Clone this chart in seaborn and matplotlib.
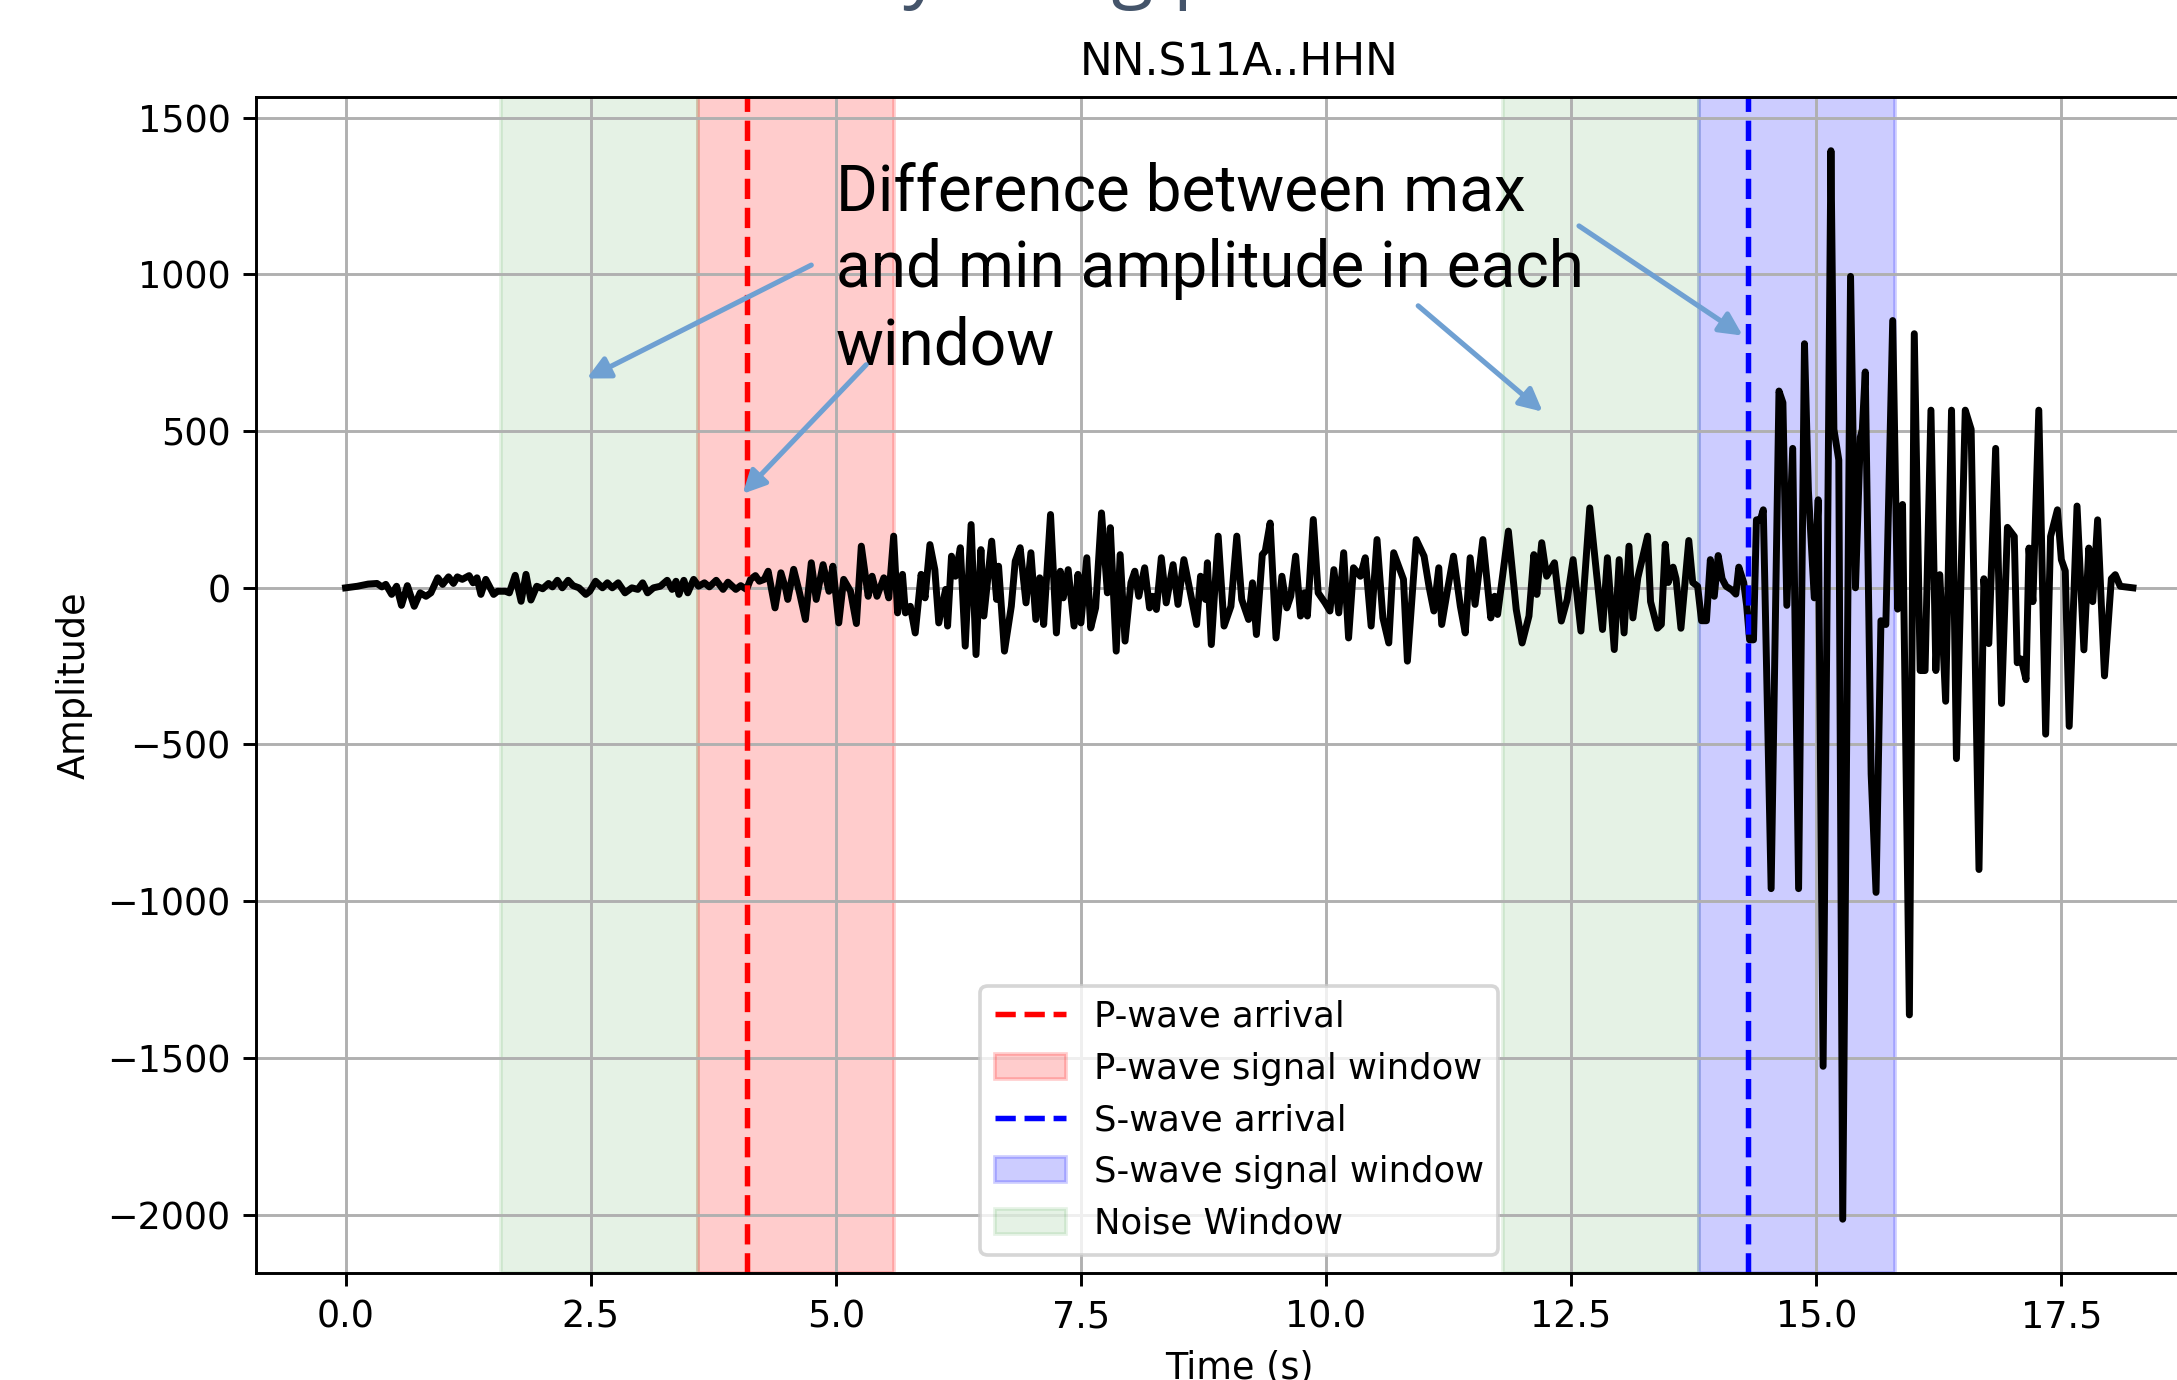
import seaborn as sns
import matplotlib.pyplot as plt

# waveform vertices (seconds, counts)
time_s = [
    0.00, 0.12, 0.23, 0.32, 0.37, 0.41, 0.47, 0.52, 0.57, 0.63, 0.70, 0.76, 0.82, 0.87, 0.94, 0.99, 1.05, 1.10, 1.14, 1.19,
    1.26, 1.30, 1.34, 1.38, 1.43, 1.51, 1.55, 1.63, 1.67, 1.73, 1.79, 1.84, 1.89, 1.95, 2.01, 2.07, 2.11, 2.16, 2.21, 2.27,
    2.32, 2.38, 2.45, 2.49, 2.55, 2.62, 2.67, 2.72, 2.78, 2.85, 2.92, 2.98, 3.03, 3.08, 3.14, 3.21, 3.28, 3.33, 3.37, 3.40,
    3.45, 3.49, 3.55, 3.60, 3.66, 3.71, 3.78, 3.85, 3.90, 3.98, 4.03, 4.09, 4.13, 4.18, 4.22, 4.27, 4.31, 4.38, 4.44, 4.49,
    4.51, 4.57, 4.63, 4.69, 4.75, 4.80, 4.87, 4.93, 4.97, 5.03, 5.08, 5.15, 5.21, 5.26, 5.33, 5.37, 5.42, 5.49, 5.54, 5.59,
    5.63, 5.68, 5.71, 5.76, 5.81, 5.87, 5.91, 5.96, 6.01, 6.05, 6.12, 6.14, 6.18, 6.22, 6.27, 6.32, 6.38, 6.43, 6.48, 6.51,
    6.59, 6.64, 6.66, 6.72, 6.79, 6.83, 6.88, 6.94, 6.99, 7.04, 7.08, 7.12, 7.19, 7.25, 7.29, 7.32, 7.37, 7.43, 7.47, 7.50,
    7.56, 7.60, 7.65, 7.71, 7.77, 7.80, 7.86, 7.90, 7.95, 8.01, 8.05, 8.09, 8.15, 8.20, 8.23, 8.27, 8.32, 8.37, 8.44, 8.49,
    8.55, 8.61, 8.68, 8.72, 8.77, 8.79, 8.83, 8.90, 8.96, 9.03, 9.09, 9.14, 9.21, 9.25, 9.29, 9.35, 9.38, 9.43, 9.49, 9.55,
    9.60, 9.64, 9.69, 9.74, 9.78, 9.81, 9.87, 9.92, 9.99, 10.04, 10.08, 10.13, 10.18, 10.23, 10.28, 10.35, 10.40, 10.46, 10.52, 10.58,
    10.64, 10.69, 10.79, 10.83, 10.92, 11.00, 11.05, 11.10, 11.15, 11.18, 11.24, 11.30, 11.37, 11.42, 11.47, 11.52, 11.60, 11.68, 11.72, 11.75,
    11.86, 11.94, 12.00, 12.07, 12.12, 12.15, 12.20, 12.25, 12.33, 12.40, 12.46, 12.52, 12.60, 12.69, 12.76, 12.82, 12.87, 12.94, 12.99, 13.04,
    13.09, 13.13, 13.18, 13.28, 13.31, 13.38, 13.42, 13.46, 13.49, 13.54, 13.57, 13.62, 13.70, 13.74, 13.79, 13.83, 13.88, 13.92, 13.96, 14.00,
    14.04, 14.08, 14.14, 14.18, 14.21, 14.26, 14.29, 14.32, 14.36, 14.39, 14.43, 14.46, 14.54, 14.62, 14.66, 14.70, 14.76, 14.82, 14.88, 14.92,
    14.98, 15.02, 15.07, 15.15, 15.18, 15.23, 15.27, 15.35, 15.40, 15.45, 15.47, 15.50, 15.56, 15.61, 15.66, 15.71, 15.78, 15.83, 15.88, 15.95,
    16.00, 16.06, 16.11, 16.17, 16.22, 16.26, 16.32, 16.38, 16.43, 16.52, 16.58, 16.66, 16.71, 16.76, 16.83, 16.89, 16.95, 17.02, 17.05, 17.09,
    17.14, 17.17, 17.21, 17.27, 17.34, 17.39, 17.46, 17.50, 17.54, 17.58, 17.66, 17.73, 17.78, 17.82, 17.87, 17.94, 18.01, 18.05, 18.10, 18.23,
]
amplitude = [
    0, 5, 12, 14, 3, 11, -21, 5, -56, 7, -59, -16, -27, -16, 32, 11, 35, 14, 35, 27,
    39, 16, 32, -21, 27, -21, -11, -11, -16, 40, -43, 43, -39, 5, -3, 14, 3, 24, 0, 24,
    7, 0, -21, -11, 21, 0, 16, 0, 16, -16, 0, -5, 16, -16, 0, 5, 24, -5, 21, -21,
    24, -16, 27, 5, 16, 3, 24, -5, 18, -5, 7, -5, 27, 39, 21, 27, 53, -64, 48, -5,
    -37, 59, -16, -101, 80, -37, 74, -11, 69, -112, 27, -11, -114, 133, -27, 37, -27, 32, -32, 165,
    -80, 43, -80, -59, -144, 43, -32, 138, 58, -112, -5, -122, 101, 37, 128, -186, 202, -213, 122, -90,
    149, -37, 69, -202, -59, 85, 128, -48, 112, -101, 32, -117, 234, -144, 53, -32, 58, -122, 43, -112,
    96, -128, -64, 239, -16, 192, -202, 106, -170, 16, 53, -27, 64, -64, -27, -69, 96, -48, 74, -53,
    90, -5, -117, 37, -37, 80, -181, 165, -122, -59, 165, -37, -101, 16, -149, 106, 117, 207, -160, 37,
    -64, -27, 101, -90, -16, -90, 218, -16, -48, -74, 58, -80, 112, -160, 64, 37, 96, -122, 154, -96,
    -176, 112, 27, -234, 154, 101, 5, -74, 64, -117, -5, 101, -59, -144, 96, -53, 154, -96, -27, -85,
    181, -69, -176, -90, 106, -21, 144, 37, 80, -106, -37, 90, -138, 255, 43, -133, 96, -197, 90, -144,
    133, -96, 32, 165, -44, -129, -117, 139, 17, 66, 29, -129, 151, 17, 5, -105, -105, 90, -27, 103,
    29, 5, -7, -20, 66, 17, -56, -166, -166, 217, 217, 249, -960, 628, 591, -56, 445, -960, 779, 310,
    -32, 281, -1527, 1395, 506, 408, -2015, 994, 0, 481, 506, 689, -594, -972, -105, -117, 853, -68, 266, -1363,
    811, -264, -264, 567, -264, 42, -362, 567, -545, 567, 506, -899, 29, -178, 445, -369, 193, 164, -239, -227,
    -293, 127, -44, 567, -467, 164, 249, 90, 54, -442, 261, -198, 127, -44, 217, -281, 29, 42, 5, 0,
]

p_arrival = 4.09
s_arrival = 14.30
p_window = (3.59, 5.59)
s_window = (13.80, 15.80)
noise_windows = [(1.59, 3.59), (11.80, 13.80)]

# (text tip x, y) -> (target x, y) for the call-out arrows
arrow_starts = [(4.75, 1030), (5.31, 712), (10.94, 900), (12.58, 1155)]
arrow_ends = [(2.46, 668), (4.05, 300), (12.21, 562), (14.25, 805)]

DPI = 263
fig = plt.figure(figsize=(2177 / DPI, 1380 / DPI), dpi=DPI)
ax = fig.add_axes([0.1177, 0.0778, 0.9031, 0.8517])

sns.lineplot(x=time_s, y=amplitude, color="black", linewidth=1.9,
             estimator=None, sort=False, ax=ax)

ax.axvline(p_arrival, color="red", linestyle="--", label="P-wave arrival")
ax.axvspan(*p_window, color="red", alpha=0.2, label="P-wave signal window")
ax.axvline(s_arrival, color="blue", linestyle="--", label="S-wave arrival")
ax.axvspan(*s_window, color="blue", alpha=0.2, label="S-wave signal window")
ax.axvspan(*noise_windows[0], color="green", alpha=0.1, label="Noise Window")
ax.axvspan(*noise_windows[1], color="green", alpha=0.1)

ax.set_title("NN.S11A..HHN")
ax.set_xlabel("Time (s)")
ax.set_ylabel("Amplitude")
ax.grid(True)
ax.legend(loc="lower center", fontsize=9.7)

ax.text(5.0, 1360, "Difference between max\nand min amplitude in each\nwindow",
        family="Roboto", fontsize=17.5, va="top", ha="left", linespacing=1.3)
for (x0, y0), (x1, y1) in zip(arrow_starts, arrow_ends):
    ax.annotate("", xy=(x1, y1), xytext=(x0, y0),
                arrowprops=dict(arrowstyle="-|>", color="#6fa0d2", lw=1.4,
                                mutation_scale=13, shrinkA=0, shrinkB=0))

# slide heading above the chart, mostly outside the frame
fig.text(0.3166, 1.005, "SNR by using peaks", family="Open Sans", fontsize=21,
         color="#44546a", ha="left", va="baseline")

fig.savefig("out.png", dpi=DPI)
